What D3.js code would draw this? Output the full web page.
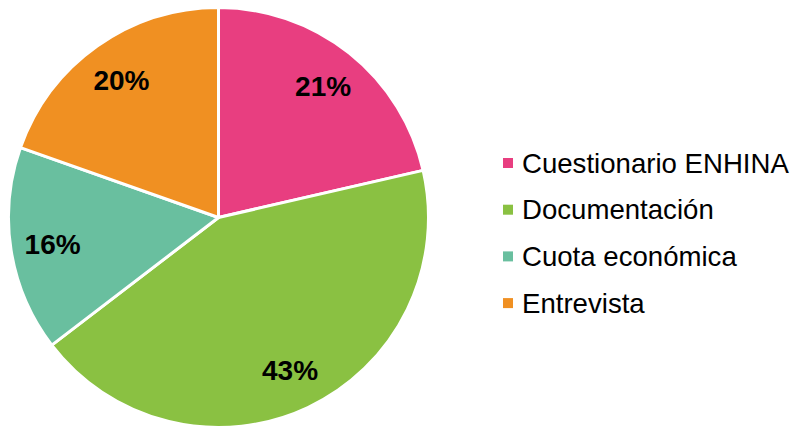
<!DOCTYPE html>
<html>
<head>
<meta charset="utf-8">
<script src="https://cdn.jsdelivr.net/npm/d3@7"></script>
<style>
html,body{margin:0;padding:0;background:#fff;}
svg{display:block;}
</style>
</head>
<body>
<svg id="chart" width="796" height="427"></svg>
<script>
const categories = ["Cuestionario ENHINA", "Documentación", "Cuota económica", "Entrevista"];
const values = [21.4, 43.2, 15.8, 19.6];
const colors = ["#E83E80", "#8AC142", "#69BF9F", "#F09022"];

const svg = d3.select("#chart");
const cx = 218.5, cy = 217.5, R = 210;

const data = categories.map((c, i) => ({ name: c, value: values[i], color: colors[i] }));
const pie = d3.pie().value(d => d.value).sort(null);
const arcs = pie(data);
const arc = d3.arc().innerRadius(0).outerRadius(R);
const labelArc = d3.arc().innerRadius(168).outerRadius(168);

const g = svg.append("g").attr("transform", `translate(${cx},${cy})`);
g.selectAll("path").data(arcs).enter().append("path")
  .attr("d", arc)
  .attr("fill", d => d.data.color)
  .attr("stroke", "#fff")
  .attr("stroke-width", 3)
  .attr("stroke-linejoin", "round");

const total = d3.sum(values);
g.selectAll("text.lbl").data(arcs).enter().append("text")
  .attr("class", "lbl")
  .attr("transform", d => `translate(${labelArc.centroid(d)})`)
  .attr("text-anchor", "middle")
  .attr("dy", "0.36em")
  .style("font-family", "'Liberation Sans', Arial, sans-serif")
  .style("font-weight", "bold")
  .style("font-size", "28px")
  .attr("fill", "#000")
  .text(d => Math.round(d.data.value / total * 100) + "%");

const legend = svg.append("g").attr("transform", "translate(503,163)");
const rowH = 46.7;
const items = legend.selectAll("g").data(data).enter().append("g")
  .attr("transform", (d, i) => `translate(0,${i * rowH})`);
items.append("rect")
  .attr("x", 0).attr("y", -5).attr("width", 10).attr("height", 10)
  .attr("fill", d => d.color);
items.append("text")
  .attr("x", 19).attr("y", 0).attr("dy", "0.35em")
  .style("font-family", "'Liberation Sans', Arial, sans-serif")
  .style("font-size", "27.6px")
  .attr("fill", "#000")
  .text(d => d.name);
</script>
</body>
</html>
